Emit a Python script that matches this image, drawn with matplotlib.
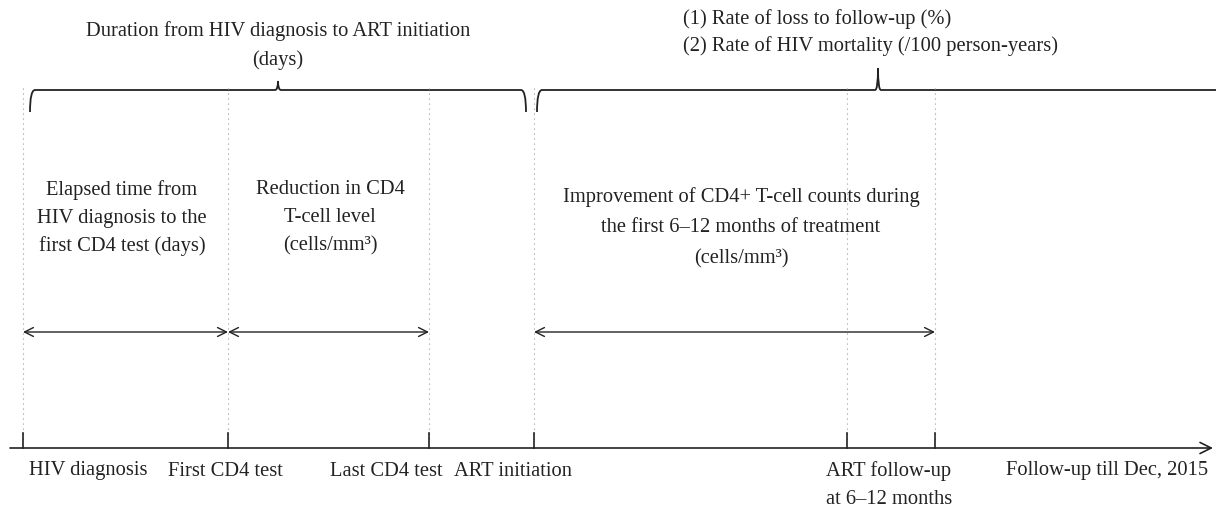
import matplotlib.pyplot as plt
from matplotlib.path import Path
import matplotlib.patches as patches

plt.rcParams['font.family'] = ['Liberation Serif', 'DejaVu Serif']

W, H = 1216, 511
FS = 14.8
INK = '#222222'

# Timeline events (position along the time axis) and their labels
event_x = [23, 228, 429, 534, 847, 935]
bottom_labels = ['HIV diagnosis', 'First CD4 test', 'Last CD4 test', 'ART initiation',
                 'ART follow-up\nat 6\u201312 months', 'Follow-up till Dec, 2015']
bottom_label_x = [88, 225, 386, 513, 889, 1107]

# Measured intervals: (start, end) pairs and the text over them
span_pairs = [(23, 228), (228, 429), (534, 935)]
span_texts = ['Elapsed time from\nHIV diagnosis to the\nfirst CD4 test (days)',
              'Reduction in CD4\nT-cell level\n(cells/mm\u00b3)',
              'Improvement of CD4+ T-cell counts during\nthe first 6\u201312 months of treatment\n(cells/mm\u00b3)']
span_text_x = [122, 330, 741]

AXIS_Y = 448
ARROW_Y = 332
BRACE_Y = 90


def brace(ax, x0, x1, peak, rise, y=BRACE_Y, drop=22, right_end=True):
    r = 5
    verts = [(x0, y + drop), (x0, y), (x0 + r, y),
             (peak - 3, y), (peak, y), (peak, y - rise),
             (peak, y), (peak + 3, y)]
    codes = [Path.MOVETO, Path.CURVE3, Path.CURVE3,
             Path.LINETO, Path.CURVE3, Path.CURVE3,
             Path.CURVE3, Path.CURVE3]
    if right_end:
        verts += [(x1 - r, y), (x1, y), (x1, y + drop)]
        codes += [Path.LINETO, Path.CURVE3, Path.CURVE3]
    else:
        verts += [(x1, y)]
        codes += [Path.LINETO]
    ax.add_patch(patches.PathPatch(Path(verts, codes), fill=False, lw=1.3, color=INK))


fig = plt.figure(figsize=(W / 100, H / 100), dpi=100)
ax = fig.add_axes([0, 0, 1, 1])
ax.set_xlim(0, W)
ax.set_ylim(H, 0)
ax.axis('off')

# dotted guides and ticks
for x in event_x:
    ax.plot([x, x], [88, AXIS_Y - 6], ls=(0, (1, 3.5)), lw=0.8, color='#999999')
    ax.plot([x, x], [433, AXIS_Y], lw=1.2, color=INK)

# main time axis
ax.annotate('', xy=(1213, AXIS_Y), xytext=(10, AXIS_Y),
            arrowprops=dict(arrowstyle='->', lw=1.2, color=INK, mutation_scale=20,
                            shrinkA=0, shrinkB=0))

# double arrows
for a, b in span_pairs:
    ax.annotate('', xy=(b, ARROW_Y), xytext=(a, ARROW_Y),
                arrowprops=dict(arrowstyle='<->', lw=1.0, color=INK,
                                mutation_scale=16, shrinkA=0, shrinkB=0))

for i, (t, x) in enumerate(zip(span_texts, span_text_x)):
    y0, dy = (197, 31) if i == 2 else (190, 28)
    for k, line in enumerate(t.split('\n')):
        ax.text(x, y0 + k * dy, line, ha='center', va='center', fontsize=FS, color=INK)

# braces
brace(ax, 30, 526, 278, 9)
brace(ax, 537, 1216, 878, 22, right_end=False)
ax.text(278, 31, 'Duration from HIV diagnosis to ART initiation', ha='center', va='center',
        fontsize=FS, color=INK)
ax.text(278, 60, '(days)', ha='center', va='center', fontsize=FS, color=INK)
ax.text(683, 19, '(1) Rate of loss to follow-up (%)', ha='left', va='center', fontsize=FS, color=INK)
ax.text(683, 46, '(2) Rate of HIV mortality (/100 person-years)', ha='left', va='center',
        fontsize=FS, color=INK)

for t, x in zip(bottom_labels, bottom_label_x):
    for k, line in enumerate(t.split('\n')):
        ax.text(x, 471 + k * 29, line, ha='center', va='center', fontsize=FS, color=INK)

fig.savefig('out.png', dpi=100)
